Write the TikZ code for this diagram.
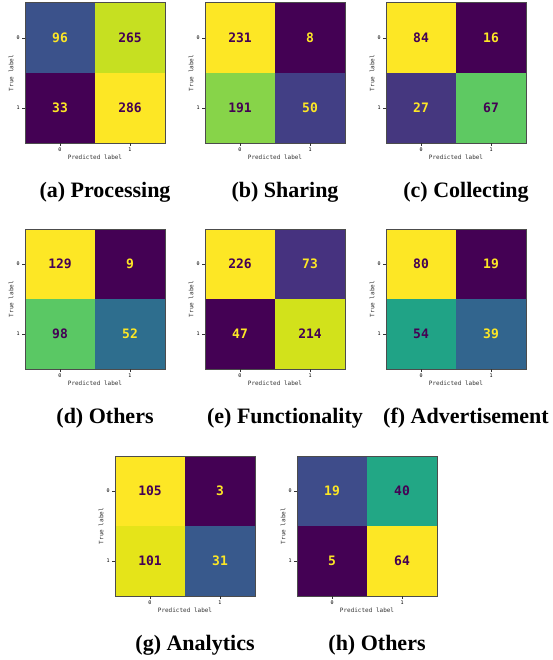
\documentclass[tikz,border=0pt]{standalone}
\usepackage{fontspec}
\setmainfont{Liberation Serif}
\newfontfamily\cmfont{DejaVu Sans Mono}
\usetikzlibrary{positioning}

% viridis shades
\definecolor{vir00}{HTML}{440154}
\definecolor{vir14}{HTML}{46327F}
\definecolor{vir16}{HTML}{45377F}
\definecolor{vir19}{HTML}{423F85}
\definecolor{vir24}{HTML}{3E4C8A}
\definecolor{vir25}{HTML}{3B528B}
\definecolor{vir28}{HTML}{38598C}
\definecolor{vir33}{HTML}{32658E}
\definecolor{vir36}{HTML}{2E6E8E}
\definecolor{vir57}{HTML}{20A386}
\definecolor{vir59}{HTML}{22A785}
\definecolor{vir74}{HTML}{5AC864}
\definecolor{vir75}{HTML}{5EC962}
\definecolor{vir82}{HTML}{87D449}
\definecolor{vir91}{HTML}{C6E021}
\definecolor{vir93}{HTML}{D2E21B}
\definecolor{vir96}{HTML}{E5E419}
\definecolor{vir100}{HTML}{FDE725}

% #1 id, #2 x, #3 y, #4 caption, #5-#8 cells as fill/text/value
\newcommand\confmat[8]{%
  \foreach \f/\t/\v [count=\i from 0] in {#5,#6,#7,#8} {
    \pgfmathtruncatemacro\cmcol{mod(\i,2)}
    \pgfmathtruncatemacro\cmrow{\i/2}
    \node [cell, fill=\f, text=\t] (#1-\i) at ({#2+35+70*\cmcol},{#3+35+70*\cmrow}) {\v};
  }
  \draw [spine] (#1-0.north west) rectangle (#1-3.south east);
  % ticks
  \draw [tick] (#1-0.west) -- ++(-2.5,0);
  \draw [tick] (#1-2.west) -- ++(-2.5,0);
  \draw [tick] (#1-2.south) -- ++(0,2.5);
  \draw [tick] (#1-3.south) -- ++(0,2.5);
  \node [ticklabel, left=5pt of #1-0.west] (#1-y0) {0};
  \node [ticklabel, left=5pt of #1-2.west] (#1-y1) {1};
  \node [ticklabel, below=4pt of #1-2.south] (#1-x0) {0};
  \node [ticklabel, below=4pt of #1-3.south] (#1-x1) {1};
  % axis labels
  \node [axislabel, rotate=90] (#1-yl) at ({#2-14},{#3+70}) {True label};
  \node [axislabel] (#1-xl) at ({#2+70},{#3+154}) {Predicted label};
  % caption
  \node [caption] (#1-cap) at ({#2+80},{#3+189}) {(#1) #4};
}

\begin{document}
\begin{tikzpicture}[
    x=1pt, y=-1pt,
    cell/.style={rectangle, minimum size=70pt, inner sep=0pt, font=\cmfont\bfseries\fontsize{13}{13}\selectfont},
    spine/.style={draw=black!70, line width=0.6pt},
    tick/.style={draw=black!80, line width=0.4pt},
    ticklabel/.style={font=\cmfont\fontsize{5}{5}\selectfont, inner sep=0pt},
    axislabel/.style={font=\cmfont\fontsize{6}{6}\selectfont, text=black!80, inner sep=0pt},
    caption/.style={font=\bfseries\fontsize{22}{22}\selectfont, inner sep=0pt}
]
    \useasboundingbox (0,0) rectangle (552,660);

    % Top row
    \confmat{a}{25}{3}{Processing}{vir25/vir100/96}{vir91/vir00/265}{vir00/vir100/33}{vir100/vir00/286}
    \confmat{b}{205}{3}{Sharing}{vir100/vir00/231}{vir00/vir100/8}{vir82/vir00/191}{vir19/vir100/50}
    \confmat{c}{386}{3}{Collecting}{vir100/vir00/84}{vir00/vir100/16}{vir16/vir100/27}{vir75/vir00/67}

    % Middle row
    \confmat{d}{25}{229}{Others}{vir100/vir00/129}{vir00/vir100/9}{vir74/vir00/98}{vir36/vir100/52}
    \confmat{e}{205}{229}{Functionality}{vir100/vir00/226}{vir14/vir100/73}{vir00/vir100/47}{vir93/vir00/214}
    \confmat{f}{386}{229}{Advertisement}{vir100/vir00/80}{vir00/vir100/19}{vir57/vir00/54}{vir33/vir100/39}

    % Bottom row
    \confmat{g}{115}{456}{Analytics}{vir100/vir00/105}{vir00/vir100/3}{vir96/vir00/101}{vir28/vir100/31}
    \confmat{h}{297}{456}{Others}{vir24/vir100/19}{vir59/vir00/40}{vir00/vir100/5}{vir100/vir00/64}
\end{tikzpicture}
\end{document}
